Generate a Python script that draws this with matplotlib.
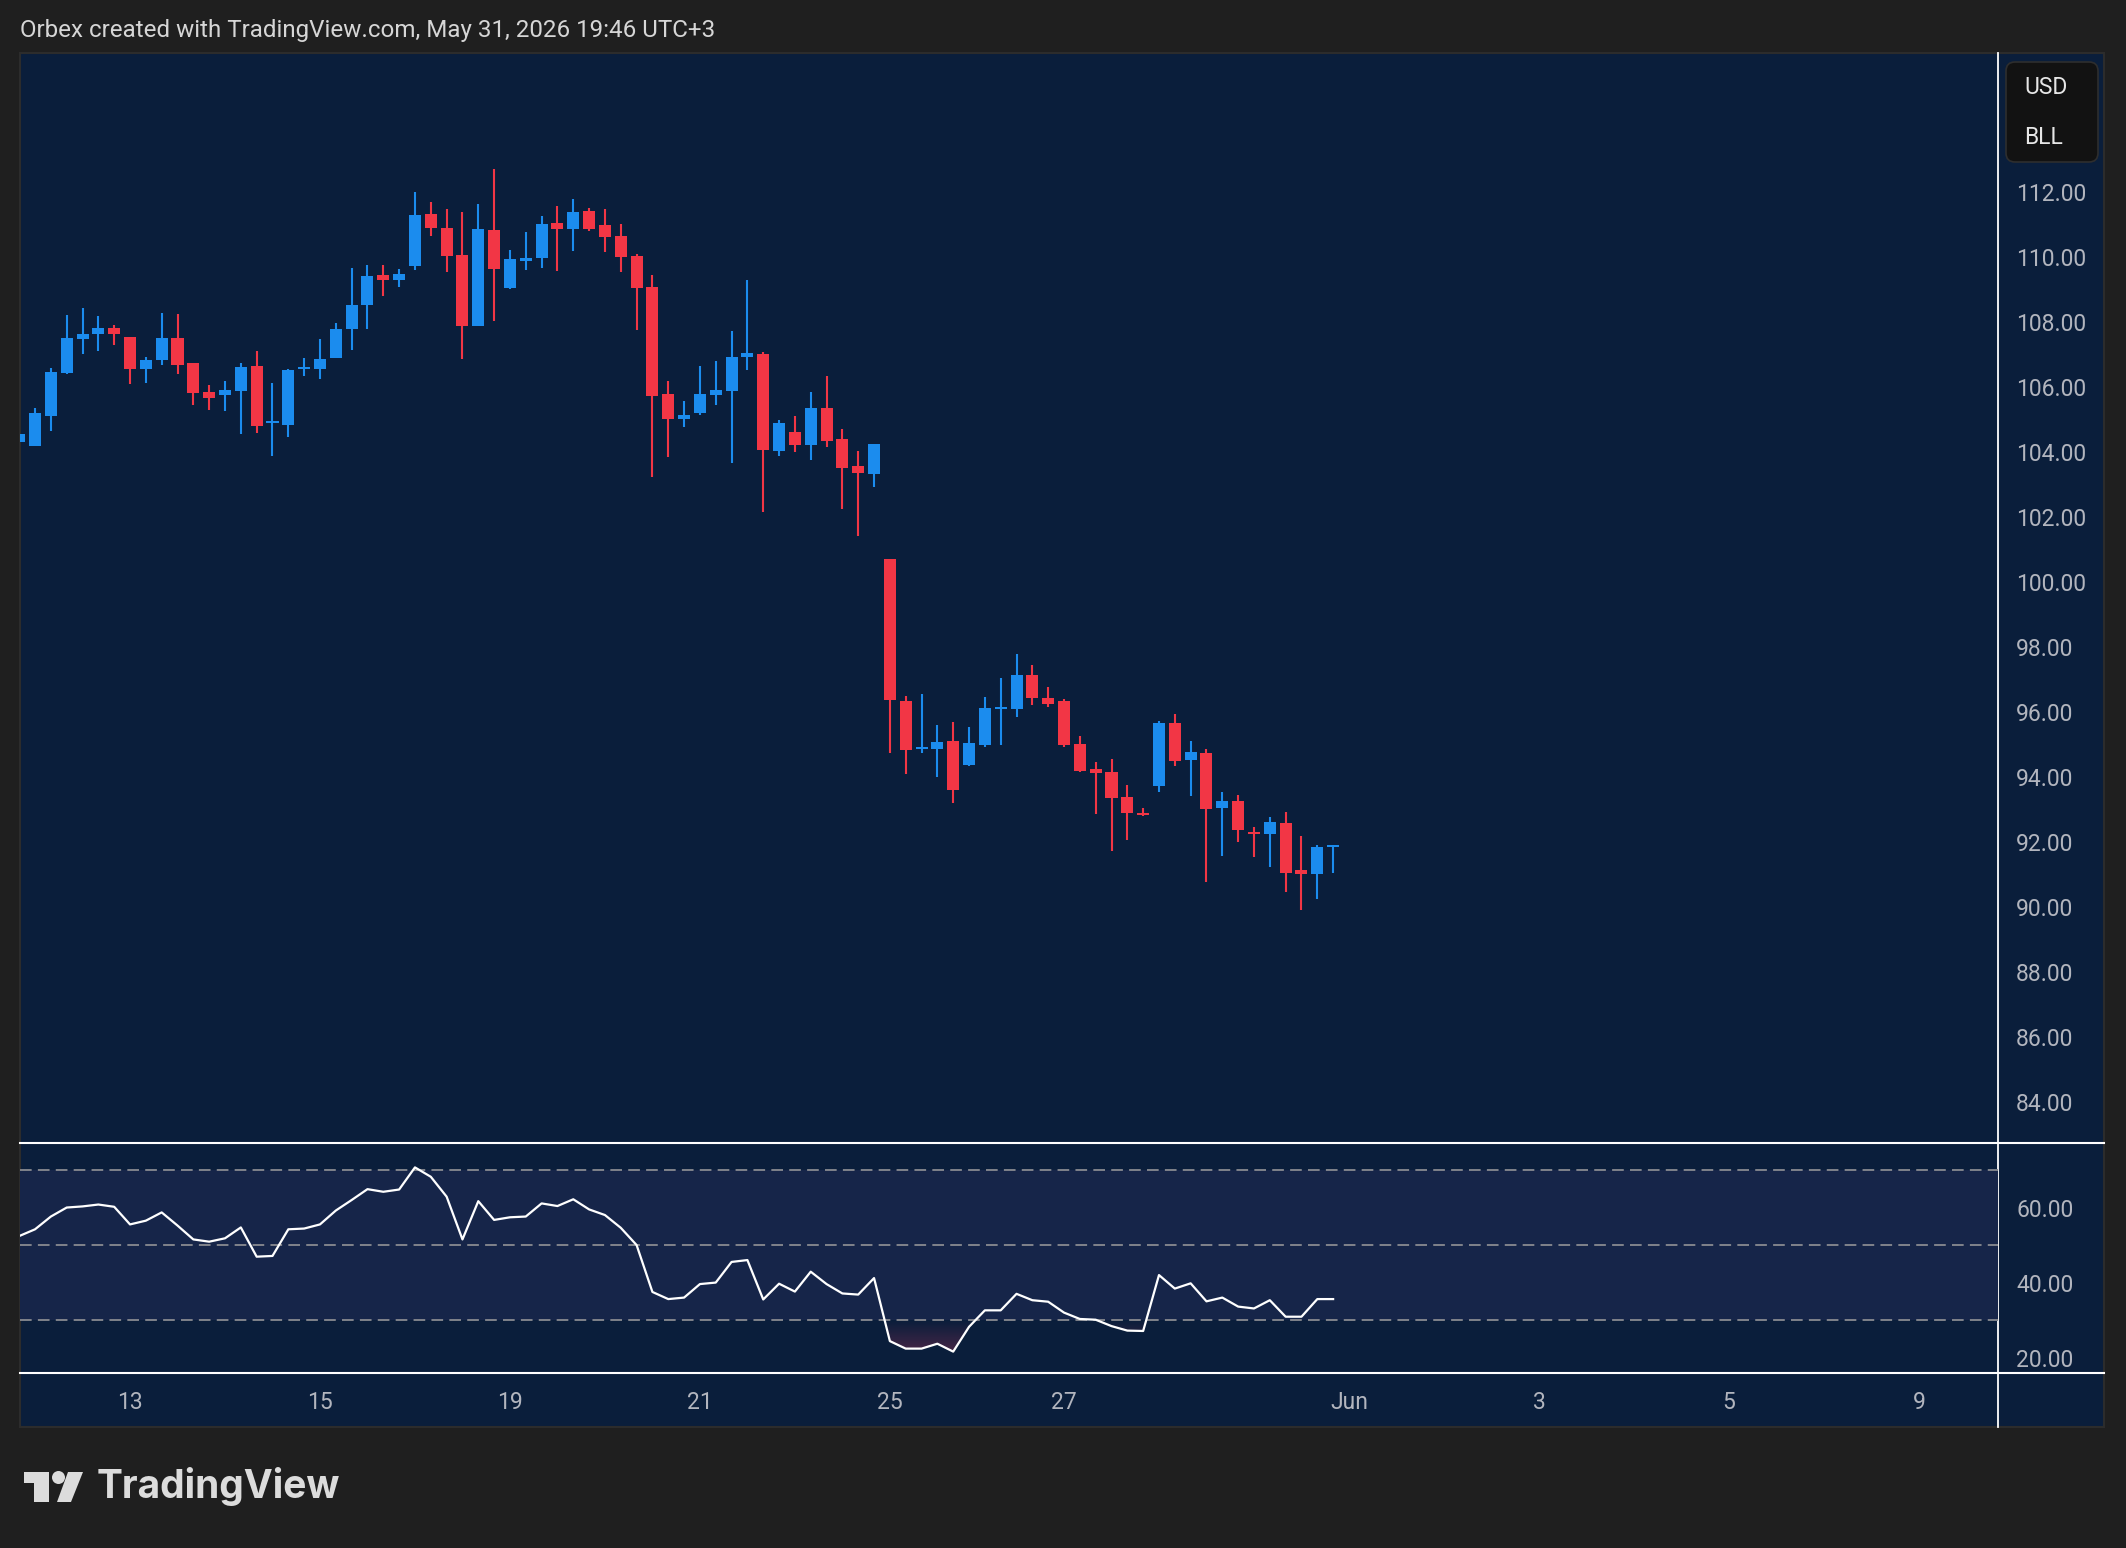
import numpy as np
import matplotlib
matplotlib.use("Agg")
import matplotlib.pyplot as plt
from matplotlib.patches import Rectangle, FancyBboxPatch, Polygon, Circle
from matplotlib.colors import LinearSegmentedColormap

W, H = 2126, 1548

# 4h candles, OHLC
opens = [104.29, 104.18, 105.10, 106.42, 107.47, 107.62, 107.80, 107.52, 106.55, 106.82,
         107.49, 106.72, 105.83, 105.75, 105.87, 106.63, 104.88, 104.82, 106.56, 106.55,
         106.89, 107.78, 108.52, 109.43, 109.29, 109.72, 111.31, 110.88, 110.05, 107.87,
         110.81, 109.04, 109.88, 109.96, 111.03, 110.86, 111.40, 110.97, 110.63, 110.01,
         109.06, 105.77, 105.01, 105.19, 105.75, 105.87, 106.92, 107.00, 104.02, 104.60,
         104.21, 105.34, 104.38, 103.55, 103.31, 100.69, 96.35, 94.87, 94.85, 95.12,
         94.36, 95.00, 96.10, 96.08, 97.15, 96.44, 96.35, 95.02, 94.25, 94.16,
         93.39, 92.90, 93.74, 95.67, 94.51, 94.75, 93.06, 93.27, 92.32, 92.24,
         92.59, 91.15, 91.03, 91.85]
highs = [104.54, 105.34, 106.57, 108.20, 108.41, 108.17, 107.89, 107.52, 106.91, 108.26,
         108.23, 106.72, 106.04, 106.17, 106.72, 107.09, 106.11, 106.54, 106.88, 107.46,
         107.95, 109.65, 109.74, 109.74, 109.61, 111.98, 111.68, 111.46, 111.37, 111.61,
         112.69, 110.20, 110.75, 111.25, 111.55, 111.77, 111.49, 111.46, 111.00, 110.08,
         109.43, 106.17, 105.55, 106.63, 106.78, 107.71, 109.28, 107.06, 104.98, 105.09,
         105.83, 106.32, 104.69, 104.01, 104.23, 100.69, 96.50, 96.56, 95.61, 95.70,
         95.55, 96.47, 97.06, 97.79, 97.43, 96.78, 96.41, 95.27, 94.47, 94.56,
         93.76, 93.05, 95.73, 95.95, 95.12, 94.87, 93.55, 93.45, 92.47, 92.78,
         92.93, 92.19, 91.92, 91.92]
lows = [104.29, 104.18, 104.64, 106.39, 107.01, 107.10, 107.29, 106.09, 106.12, 106.67,
        106.39, 105.44, 105.28, 105.25, 104.55, 104.58, 103.87, 104.45, 106.33, 106.24,
        106.89, 107.13, 107.78, 108.79, 109.07, 109.59, 110.64, 109.53, 106.85, 107.87,
        108.02, 109.01, 109.59, 109.66, 109.56, 110.18, 110.79, 110.15, 109.53, 107.75,
        103.22, 103.84, 104.76, 105.13, 105.44, 103.65, 106.52, 102.15, 103.87, 103.99,
        103.75, 104.15, 102.24, 101.40, 102.91, 94.73, 94.08, 94.73, 93.99, 93.19,
        94.33, 94.91, 95.00, 95.84, 96.21, 96.14, 94.91, 94.17, 92.85, 91.74,
        92.08, 92.79, 93.53, 94.33, 93.43, 90.76, 91.56, 91.99, 91.53, 91.25,
        90.48, 89.90, 90.26, 91.06]
closes = [104.54, 105.18, 106.44, 107.49, 107.61, 107.80, 107.62, 106.55, 106.81, 107.49,
          106.67, 105.81, 105.65, 105.89, 106.60, 104.79, 104.93, 106.51, 106.61, 106.84,
          107.77, 108.51, 109.40, 109.29, 109.46, 111.28, 110.89, 110.02, 107.87, 110.85,
          109.62, 109.92, 109.96, 111.00, 110.86, 111.37, 110.86, 110.61, 109.99, 109.04,
          105.72, 105.01, 105.12, 105.77, 105.89, 106.91, 107.03, 104.05, 104.87, 104.21,
          105.34, 104.33, 103.50, 103.35, 104.23, 96.36, 94.82, 94.92, 95.09, 93.59,
          95.06, 96.13, 96.15, 97.15, 96.42, 96.24, 95.00, 94.20, 94.11, 93.37,
          92.88, 92.82, 95.67, 94.48, 94.78, 93.03, 93.27, 92.36, 92.24, 92.62,
          91.06, 91.03, 91.85, 91.90]

rsi = [52.4, 54.2, 57.6, 60.0, 60.3, 60.8, 60.2, 55.5, 56.5, 58.7,
       55.2, 51.5, 50.9, 51.8, 54.7, 46.9, 47.1, 54.2, 54.4, 55.5,
       59.2, 62.0, 64.9, 64.2, 64.8, 70.7, 68.2, 62.9, 51.5, 61.7,
       56.7, 57.4, 57.6, 61.1, 60.4, 62.2, 59.5, 58.0, 54.6, 50.0,
       37.5, 35.6, 36.0, 39.6, 40.0, 45.5, 46.0, 35.5, 39.7, 37.6,
       42.9, 39.6, 37.1, 36.8, 41.2, 24.4, 22.4, 22.4, 23.7, 21.6,
       28.2, 32.6, 32.6, 37.0, 35.3, 34.9, 32.0, 30.3, 30.1, 28.4,
       27.2, 27.1, 42.0, 38.4, 39.8, 35.0, 36.0, 33.6, 33.1, 35.3,
       30.9, 30.9, 35.6, 35.6]

date_pos = [7, 19, 31, 43, 55, 66, 84, 96, 108, 120]
date_labels = ["13", "15", "19", "21", "25", "27", "Jun", "3", "5", "9"]
price_ticks = list(range(84, 113, 2))
rsi_ticks = [20, 40, 60]

NAVY = "#0a1e3b"
BAND = "#162549"
UP = "#1b8cee"
DOWN = "#f23645"
TXT = "#b2b5be"
FONT = "Roboto"

fig = plt.figure(figsize=(W / 100, H / 100), dpi=100)
fig.patch.set_facecolor("#1f1f1f")

def rect(x0, y0, x1, y1):
    return [x0 / W, 1 - y1 / H, (x1 - x0) / W, (y1 - y0) / H]

# pixel-space background layer
bg = fig.add_axes([0, 0, 1, 1], zorder=0)
bg.set_xlim(0, W)
bg.set_ylim(H, 0)
bg.axis("off")
bg.add_patch(Rectangle((20, 53), 2084, 1374, facecolor=NAVY, edgecolor="#2c2c2c", lw=1.5))
bg.plot([20, 2104], [1143, 1143], color="white", lw=1.5)
bg.plot([20, 2104], [1373, 1373], color="white", lw=1.5)
bg.plot([1998, 1998], [53, 1427], color="white", lw=1.3)
bg.add_patch(FancyBboxPatch((2006, 62), 92, 100, boxstyle="round,pad=0,rounding_size=9",
                            facecolor="#121212", edgecolor="#2e2e2e", lw=1.2))
bg.text(2024, 87, "USD", color="#e6e6e6", fontsize=16.5, family=FONT, va="center", ha="left")
bg.text(2024, 137, "BLL", color="#e6e6e6", fontsize=16.5, family=FONT, va="center", ha="left")
bg.text(20, 30, "Orbex created with TradingView.com, May 31, 2026 19:46 UTC+3",
        color="#d6d6d6", fontsize=17.35, family=FONT, va="center", ha="left")

# TradingView logo
LOGO = "#dcdcdc"
bg.add_patch(Polygon([(24, 1472), (49, 1472), (49, 1502), (34, 1502), (34, 1483), (24, 1483)],
                     closed=True, facecolor=LOGO, edgecolor="none"))
bg.add_patch(Circle((58.5, 1477.5), 6.5, facecolor=LOGO, edgecolor="none"))
bg.add_patch(Polygon([(68, 1472), (83, 1472), (71, 1502), (57, 1502)],
                     closed=True, facecolor=LOGO, edgecolor="none"))
bg.text(97, 1487, "TradingView", color=LOGO, fontsize=28, family="Inter", weight="bold",
        va="center", ha="left")

x = np.arange(len(opens))
o = np.array(opens); h = np.array(highs); l = np.array(lows); c = np.array(closes)
cols = [UP if cc >= oo else DOWN for oo, cc in zip(o, c)]

# price pane
ax = fig.add_axes(rect(20, 53, 1998, 1143), zorder=1)
ax.set_facecolor("none")
ax.vlines(x, l, h, colors=cols, lw=1.5)
body = np.maximum(np.abs(c - o), 0.06)
ax.bar(x, body, bottom=np.minimum(o, c), width=0.76, color=cols, linewidth=0)
ax.set_xlim(0.05, 125.0)
ax.set_ylim(82.75, 116.26)
ax.set_yticks(price_ticks)
ax.set_yticklabels([f"{t:.2f}" for t in price_ticks])
ax.yaxis.tick_right()
ax.tick_params(axis="y", length=0, pad=13, labelsize=16.5, labelcolor=TXT)
ax.set_xticks([])
for lab in ax.get_yticklabels():
    lab.set_family(FONT)
for s in ax.spines.values():
    s.set_visible(False)

# RSI pane
ar = fig.add_axes(rect(20, 1143, 1998, 1373), zorder=1)
ar.set_facecolor("none")
ar.axhspan(30, 70, color=BAND, lw=0, zorder=0)
for lvl in (30, 50, 70):
    ar.axhline(lvl, color="#80838b", lw=1.4, dashes=(6, 3.2), zorder=1)
r = np.array(rsi)
cm_low = LinearSegmentedColormap.from_list("lo", [(0.5, 0.18, 0.32, 0.6), (0.5, 0.18, 0.32, 0.0)])
cm_hi = LinearSegmentedColormap.from_list("hi", [(0.1, 0.5, 0.4, 0.0), (0.1, 0.5, 0.4, 0.5)])
grad = np.linspace(0, 1, 100).reshape(-1, 1)
lo_fill = ar.fill_between(x, r, 30, where=r < 30, interpolate=True, facecolor="none", lw=0)
for p in lo_fill.get_paths():
    im = ar.imshow(grad, extent=[0, 84, 20, 30], origin="lower", aspect="auto", cmap=cm_low, zorder=1.5)
    im.set_clip_path(p, transform=ar.transData)
hi_fill = ar.fill_between(x, r, 70, where=r > 70, interpolate=True, facecolor="none", lw=0)
for p in hi_fill.get_paths():
    im = ar.imshow(grad, extent=[0, 84, 70, 72], origin="lower", aspect="auto", cmap=cm_hi, zorder=1.5)
    im.set_clip_path(p, transform=ar.transData)
ar.plot(x, r, color="white", lw=1.6, zorder=3)
ar.set_xlim(0.05, 125.0)
ar.set_ylim(15.9, 77.2)
ar.set_yticks(rsi_ticks)
ar.set_yticklabels([f"{t:.2f}" for t in rsi_ticks])
ar.yaxis.tick_right()
ar.tick_params(axis="y", length=0, pad=13, labelsize=16.5, labelcolor=TXT)
ar.set_xticks(date_pos)
ar.set_xticklabels(date_labels)
ar.tick_params(axis="x", length=0, pad=13, labelsize=16.5, labelcolor=TXT)
for lab in ar.get_yticklabels() + ar.get_xticklabels():
    lab.set_family(FONT)
for s in ar.spines.values():
    s.set_visible(False)

fig.savefig("out.png", dpi=100, facecolor=fig.get_facecolor())
